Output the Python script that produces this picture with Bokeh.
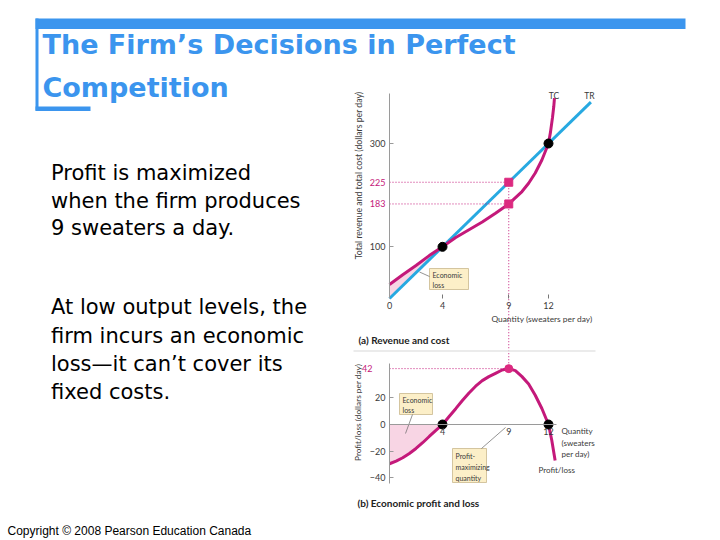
import math
from bokeh.plotting import figure
from bokeh.models import Range1d, LinearAxis, FixedTicker
from bokeh.core.properties import value
from bokeh.embed import file_html
from bokeh.resources import INLINE

# ------------------------------------------------------------------ data
TITLE_LINES = ["The Firm’s Decisions in Perfect", "Competition"]
BODY_1 = ["Profit is maximized", "when the firm produces", "9 sweaters a day."]
BODY_2 = ["At low output levels, the", "firm incurs an economic",
          "loss—it can’t cover its", "fixed costs."]
COPYRIGHT = "Copyright © 2008 Pearson Education Canada"

# (a) total cost and total revenue (dollars per day) vs quantity (sweaters per day)
QTY_TC = [0, 1, 2, 3, 4, 5, 6, 7, 8, 9, 10, 10.5, 11, 11.5, 12, 12.15, 12.3, 12.4, 12.45]
TOTAL_COST = [27, 46, 64, 83, 100, 118, 133, 148, 165, 183, 207, 223, 243, 268, 300, 322, 350, 372, 388]
QTY_TR = [0, 15.2]
TOTAL_REVENUE = [0, 380]

# (b) economic profit / loss (dollars per day)
QTY_PROFIT = [0, 0.5, 1, 1.5, 2, 2.5, 3, 3.5, 4, 4.5, 5, 5.5, 6, 6.5, 7, 7.5, 8, 8.5,
              9, 9.5, 10, 10.5, 11, 11.5, 11.75, 12, 12.25, 12.5]
PROFIT = [-29.5, -27.5, -25, -21.8, -18, -13.7, -9, -4.5, 0, 6, 11.9, 18, 23.7, 28.8,
          33, 36, 38.5, 41, 42, 40.5, 36, 30.5, 22, 12, 6, 0, -12, -27]

BEST_Q = 9
BEST_TR = 225
BEST_TC = 183
BEST_PROFIT = 42
BREAK_EVEN_Q = [4, 12]
BREAK_EVEN_TR = [100, 300]
BREAK_EVEN_PROFIT = [0, 0]

REV_TICKS = [100, 300]
REV_TICKS_HL = [183, 225]
QTY_TICKS_A = [4, 9, 12]
QTY_TICKS_A_ORIGIN = [0]
PROFIT_TICKS = [-40, -20, 0, 20]
PROFIT_TICKS_HL = [42]
QTY_TICKS_B = [4, 9]
QTY_TICKS_B_RIGHT = [12]

# ------------------------------------------------------------------ layout (page pixels)
W, H = 720, 540
OX, OY = 0, 0
Q0_PX, Q_SCALE = 389.0, 13.25      # page x of q = 0, px per sweater
A0_PY, A_SCALE = 298.0, 0.5167     # page y of $0 in panel (a), px per dollar
B0_PY, B_SCALE = 424.0, 1.33       # page y of $0 in panel (b), px per dollar

BLUE = "#3B95EE"
MAG = "#C4197A"
HOT = "#DC2A80"
CYAN = "#27A9E1"
PINK = "#F8D5E4"
AXC = "#9a9a9a"
TXT = "#3a3a3a"
BOXF = "#FCEFC8"
BOXL = "#C9B78E"
CH_FONT = "Lato"

x_range = Range1d((OX - Q0_PX) / Q_SCALE, (OX + W - Q0_PX) / Q_SCALE)
y_a = Range1d((A0_PY - (OY + H)) / A_SCALE, (A0_PY - OY) / A_SCALE)
y_b = Range1d((B0_PY - (OY + H)) / B_SCALE, (B0_PY - OY) / B_SCALE)

p = figure(width=W, height=H, x_range=x_range, y_range=y_a,
           x_axis_type=None, y_axis_type=None, toolbar_location=None,
           output_backend="svg", min_border=0, outline_line_color=None)
p.extra_x_ranges = {"px": Range1d(OX, OX + W)}
p.extra_y_ranges = {"b": y_b, "py": Range1d(OY + H, OY)}
p.background_fill_color = "white"
p.border_fill_color = "white"

PX = dict(x_range_name="px", y_range_name="py")

# ------------------------------------------------------------------ slide decoration
p.quad(left=[35, 35, 35], right=[685, 38, 90], top=[18, 18, 106], bottom=[28.5, 110, 110.5],
       color=BLUE, line_color=None, **PX)
p.text(x=[42, 42], y=[43.5, 86.8], text=TITLE_LINES, text_font=value("DejaVu Sans"),
       text_font_style="bold", text_font_size="27px", text_color=BLUE,
       text_baseline="middle", **PX)
p.text(x=[50.5] * 3, y=[172, 200, 227.9], text=BODY_1, text_font=value("DejaVu Sans"),
       text_font_size="21px", text_color="black", text_baseline="middle", **PX)
p.text(x=[50.5] * 4, y=[306.7, 335, 363.3, 391.3], text=BODY_2, text_font=value("DejaVu Sans"),
       text_font_size="21px", text_color="black", text_baseline="middle", **PX)
p.text(x=[7], y=[530.6], text=[COPYRIGHT], text_font=value("Liberation Sans"),
       text_font_size="12px", text_color="black", text_baseline="middle", **PX)

# ------------------------------------------------------------------ panel (a)
n4 = QTY_TC.index(BREAK_EVEN_Q[0])
p.patch(QTY_TC[:n4 + 1] + [QTY_TR[0]], TOTAL_COST[:n4 + 1] + [TOTAL_REVENUE[0]],
        fill_color=PINK, line_color=None)
p.line(QTY_TR, TOTAL_REVENUE, line_color=CYAN, line_width=3)
p.line(QTY_TC, TOTAL_COST, line_color=MAG, line_width=3)

def a_from_b(v):
    py = B0_PY - B_SCALE * v
    return (A0_PY - py) / A_SCALE

p.segment(x0=[0, 0], y0=[BEST_TR, BEST_TC], x1=[BEST_Q, BEST_Q], y1=[BEST_TR, BEST_TC],
          line_color=MAG, line_width=1, line_dash="1 2")
p.segment(x0=[BEST_Q], y0=[BEST_TR], x1=[BEST_Q], y1=[a_from_b(BEST_PROFIT)],
          line_color=MAG, line_width=1, line_dash="1 2")

p.scatter(BREAK_EVEN_Q, BREAK_EVEN_TR, size=9, color="black")
p.scatter([BEST_Q, BEST_Q], [BEST_TR, BEST_TC], marker="square", size=8, color=HOT)

LBL = dict(major_label_text_font_size="9px", major_label_text_font=CH_FONT,
           minor_tick_line_color=None)

ax = LinearAxis(fixed_location=0, ticker=FixedTicker(ticks=REV_TICKS), bounds=(0, 397),
                axis_line_color=AXC, major_tick_in=4, major_tick_out=0,
                major_tick_line_color=AXC, major_label_standoff=4,
                major_label_text_color=TXT, **LBL)
p.add_layout(ax, "left")
ax = LinearAxis(fixed_location=0, ticker=FixedTicker(ticks=REV_TICKS_HL), bounds=(0, 397),
                axis_line_color=None, major_tick_line_color=None,
                major_tick_in=0, major_tick_out=0, major_label_standoff=4,
                major_label_text_color=MAG, **LBL)
p.add_layout(ax, "left")
ax = LinearAxis(fixed_location=0, ticker=FixedTicker(ticks=QTY_TICKS_A), bounds=(0, 12),
                axis_line_color=None, major_tick_in=4, major_tick_out=0,
                major_tick_line_color="#777777", major_label_standoff=3,
                major_label_text_color=TXT, **LBL)
p.add_layout(ax, "below")
ax = LinearAxis(fixed_location=0, ticker=FixedTicker(ticks=QTY_TICKS_A_ORIGIN), bounds=(0, 12),
                axis_line_color=None, major_tick_line_color=None,
                major_tick_in=0, major_tick_out=0, major_label_standoff=3,
                major_label_text_align="right", major_label_text_color=TXT, **LBL)
p.add_layout(ax, "below")

# ------------------------------------------------------------------ panel (b)
n4b = QTY_PROFIT.index(BREAK_EVEN_Q[0])
p.varea(x=QTY_PROFIT[:n4b + 1], y1=PROFIT[:n4b + 1], y2=0, fill_color=PINK, y_range_name="b")
ax = LinearAxis(y_range_name="b", fixed_location=0, ticker=FixedTicker(ticks=QTY_TICKS_B),
                bounds=(0, 12.6), axis_line_color=AXC, major_tick_line_color=None,
                major_tick_in=0, major_tick_out=0, major_label_standoff=3,
                major_label_text_color=TXT, **LBL)
p.add_layout(ax, "below")
ax = LinearAxis(y_range_name="b", fixed_location=0, ticker=FixedTicker(ticks=QTY_TICKS_B_RIGHT),
                bounds=(0, 12.6), axis_line_color=None, major_tick_line_color=None,
                major_tick_in=0, major_tick_out=0, major_label_standoff=3,
                major_label_text_align="right", major_label_text_color=TXT, **LBL)
p.add_layout(ax, "below")
p.segment(x0=[0], y0=[BEST_PROFIT], x1=[BEST_Q], y1=[BEST_PROFIT], line_color=MAG,
          line_width=1, line_dash="1 2", y_range_name="b")
p.line(QTY_PROFIT, PROFIT, line_color=MAG, line_width=3, y_range_name="b")
p.scatter(BREAK_EVEN_Q, BREAK_EVEN_PROFIT, size=9, color="black", y_range_name="b")
p.scatter([BEST_Q], [BEST_PROFIT], size=8, color=HOT, y_range_name="b")

ax = LinearAxis(y_range_name="b", fixed_location=0, ticker=FixedTicker(ticks=PROFIT_TICKS),
                bounds=(-44, 46), axis_line_color=AXC, major_tick_in=4, major_tick_out=0,
                major_tick_line_color=AXC, major_label_standoff=4,
                major_label_text_color=TXT, **LBL)
p.add_layout(ax, "left")
ax = LinearAxis(y_range_name="b", fixed_location=0, ticker=FixedTicker(ticks=PROFIT_TICKS_HL),
                bounds=(-44, 46), axis_line_color=None, major_tick_line_color=None,
                major_tick_in=0, major_tick_out=0, major_label_standoff=17,
                major_label_text_color=MAG, **LBL)
p.add_layout(ax, "left")

# ------------------------------------------------------------------ chart texts, callouts
CF = value(CH_FONT)
p.text(x=[357.5], y=[175], text=["Total revenue and total cost (dollars per day)"],
       angle=math.pi / 2, text_font=CF, text_font_size="8.7px", text_color=TXT,
       text_align="center", text_baseline="middle", **PX)
p.text(x=[357.5], y=[412], text=["Profit/loss (dollars per day)"],
       angle=math.pi / 2, text_font=CF, text_font_size="8.3px", text_color=TXT,
       text_align="center", text_baseline="middle", **PX)
p.text(x=[553.5, 589], y=[95, 95], text=["TC", "TR"], text_font=CF, text_font_size="8.5px",
       text_color=TXT, text_align="center", text_baseline="middle", **PX)
p.text(x=[592], y=[318], text=["Quantity (sweaters per day)"], text_font=CF,
       text_font_size="8.4px", text_color=TXT, text_align="right", text_baseline="middle", **PX)
p.text(x=[358, 357], y=[339, 502], text=["(a) Revenue and cost", "(b) Economic profit and loss"],
       text_font=CF, text_font_style="bold", text_font_size="10px", text_color="#222222",
       text_baseline="middle", **PX)
p.segment(x0=[353], y0=[350.5], x1=[595], y1=[350.5], line_color="#E4E4E4", line_width=1.5, **PX)
p.text(x=[561, 561, 561, 538], y=[430, 442, 453, 469],
       text=["Quantity", "(sweaters", "per day)", "Profit/loss"], text_font=CF,
       text_font_size="8px", text_color=TXT, text_baseline="middle", **PX)

p.quad(left=[429, 399, 452], right=[468, 432, 486], top=[268, 393, 448], bottom=[289, 414, 482],
       fill_color=BOXF, line_color=BOXL, line_width=0.8, **PX)
p.segment(x0=[429, 412, 481], y0=[276, 414, 448], x1=[419, 405, 505], y1=[271.5, 433, 427],
          line_color="#666666", line_width=0.7, **PX)
p.text(x=[432, 432, 402, 402, 455, 455, 455], y=[274, 284, 399, 409, 455, 466, 477],
       text=["Economic", "loss", "Economic", "loss", "Profit-", "maximizing", "quantity"],
       text_font=CF, text_font_size="7px", text_color=TXT, text_baseline="middle", **PX)

open("out.html", "w").write(file_html(p, INLINE))
